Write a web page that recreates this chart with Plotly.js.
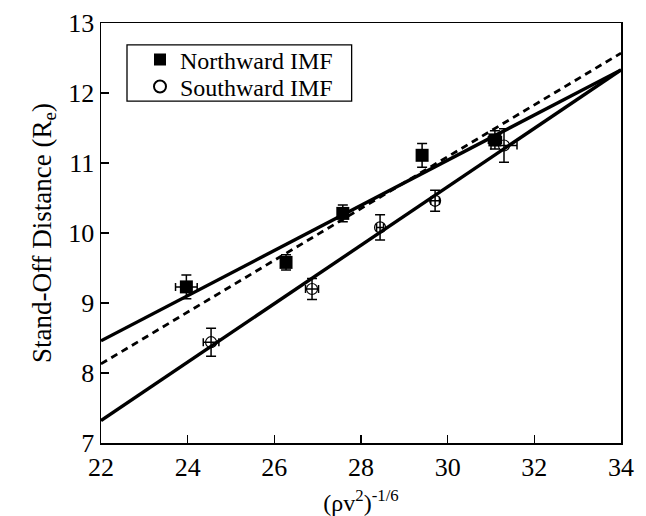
<!DOCTYPE html>
<html>
<head>
<meta charset="utf-8">
<script src="https://cdn.plot.ly/plotly-3.0.1.min.js"></script>
<style>html,body{margin:0;padding:0;background:#fff;}</style>
</head>
<body>
<div id="chart" style="width:646px;height:516px;"></div>
<script>
// Northward IMF data
const northX = [23.97, 26.27, 27.58, 29.41, 31.09];
const northY = [9.23, 9.58, 10.28, 11.11, 11.33];
const northYErr = [0.17, 0.11, 0.12, 0.17, 0.13];
const northXErr = [0.25, 0.05, 0.08, 0.05, 0.15];
// Southward IMF data
const southX = [24.54, 26.87, 28.44, 29.71, 31.30];
const southY = [8.44, 9.20, 10.08, 10.46, 11.25];
const southYErr = [0.2, 0.15, 0.18, 0.15, 0.24];
const southXErr = [0.18, 0.15, 0.08, 0.1, 0.3];
// Fit lines (endpoints)
const fitX = [22, 34];
const northFitY = [8.46, 12.33];
const southFitY = [7.32, 12.33];
const allFitY = [8.13, 12.57];
// Tick values
const xTicks = [22, 24, 26, 28, 30, 32, 34];
const yTicks = [7, 8, 9, 10, 11, 12, 13];

const font = "Liberation Serif, Times New Roman, serif";

const traces = [
  {x: fitX, y: northFitY, mode: 'lines', line: {color: '#000', width: 3.4}, showlegend: false, hoverinfo: 'skip'},
  {x: fitX, y: southFitY, mode: 'lines', line: {color: '#000', width: 3.4}, showlegend: false, hoverinfo: 'skip'},
  {x: fitX, y: allFitY, mode: 'lines', line: {color: '#000', width: 2.8, dash: '7px,5px'}, showlegend: false, hoverinfo: 'skip'},
  {
    x: northX, y: northY, mode: 'markers', name: 'Northward IMF', legend: 'legend',
    marker: {symbol: 'square', size: 13, color: '#000'},
    error_y: {type: 'data', array: northYErr, visible: true, color: '#000', thickness: 1.5, width: 5},
    error_x: {type: 'data', array: northXErr, visible: true, color: '#000', thickness: 1.5, width: 4}
  },
  {
    x: southX, y: southY, mode: 'markers', name: 'Southward IMF', legend: 'legend2',
    marker: {symbol: 'circle-open', size: 11, color: '#000', line: {width: 1.2, color: '#000'}},
    error_y: {type: 'data', array: southYErr, visible: true, color: '#000', thickness: 1.5, width: 5},
    error_x: {type: 'data', array: southXErr, visible: true, color: '#000', thickness: 1.5, width: 4}
  }
];

const legendCommon = {
  xanchor: 'left', yanchor: 'middle', borderwidth: 0, bgcolor: 'rgba(0,0,0,0)',
  font: {family: font, size: 24, color: '#000'}, itemsizing: 'constant'
};

const layout = {
  width: 646, height: 516,
  margin: {l: 101, r: 25, t: 23, b: 73},
  paper_bgcolor: '#fff', plot_bgcolor: '#fff',
  font: {family: font, color: '#000', size: 22},
  showlegend: true,
  legend: Object.assign({x: 0.075, y: 0.912}, legendCommon),
  legend2: Object.assign({x: 0.075, y: 0.848}, legendCommon),
  shapes: [{
    type: 'rect', xref: 'paper', yref: 'paper',
    x0: 0.05, x1: 0.482, y0: 0.814, y1: 0.948,
    line: {color: '#000', width: 1.3}, fillcolor: 'rgba(0,0,0,0)', layer: 'above'
  }],
  xaxis: {
    range: [22, 34], tickvals: xTicks,
    ticks: 'inside', ticklen: 8, tickwidth: 1.5, tickcolor: '#000',
    showline: true, linecolor: '#000', linewidth: 1.5, mirror: true,
    showgrid: false, zeroline: false,
    tickfont: {family: font, size: 26},
    title: {text: '(ρv<sup>2</sup>)<sup>-1/6</sup>', font: {family: font, size: 24}, standoff: 14}
  },
  yaxis: {
    range: [7, 13], tickvals: yTicks,
    ticks: 'inside', ticklen: 8, tickwidth: 1.5, tickcolor: '#000',
    showline: true, linecolor: '#000', linewidth: 1.5, mirror: true,
    showgrid: false, zeroline: false,
    tickfont: {family: font, size: 26},
    title: {text: 'Stand-Off Distance (R<sub>e</sub>)', font: {family: font, size: 27}, standoff: 9}
  }
};

Plotly.newPlot('chart', traces, layout, {displayModeBar: false, staticPlot: true});
</script>
</body>
</html>
